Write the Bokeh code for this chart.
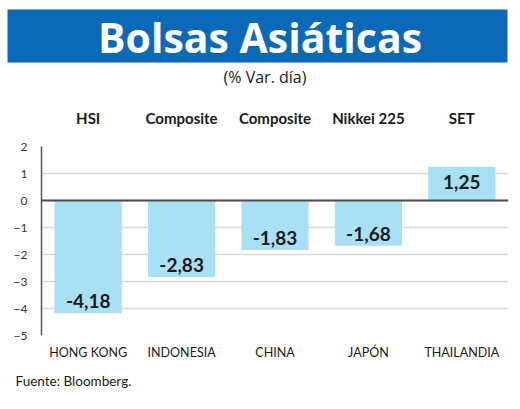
from bokeh.plotting import figure
from bokeh.layouts import column
from bokeh.models import (Range1d, LinearAxis, FixedTicker, BoxAnnotation,
                          Span, ColumnDataSource)
from bokeh.core.properties import value
from bokeh.embed import file_html
from bokeh.resources import INLINE

# ---- data ----
countries = ["HONG KONG", "INDONESIA", "CHINA", "JAPÓN", "THAILANDIA"]
indices = ["HSI", "Composite", "Composite", "Nikkei 225", "SET"]
changes = [-4.18, -2.83, -1.83, -1.68, 1.25]
y_ticks = [-5, -4, -3, -2, -1, 0, 1, 2]
title_text = "Bolsas Asiáticas"
subtitle_text = "(% Var. día)"
source_text = "Fuente: Bloomberg."

BANNER = "#0a6ab7"
BAR = "#a8e1f6"
FONT = "Lato"
HEAD_FONT = "Open Sans"
INK = "#1a1a1a"
W = 520

# ---- header (banner + subtitle) ----
hdr = figure(width=W, height=95, output_backend="svg", toolbar_location=None,
             x_range=Range1d(0, W), y_range=Range1d(0, 95),
             x_axis_type=None, y_axis_type=None, min_border=0,
             outline_line_color=None, background_fill_color="white",
             border_fill_color="white")
hdr.frame_align = False
hdr.grid.visible = False
hdr.add_layout(BoxAnnotation(left=7, right=507, bottom=33, top=86,
                             fill_color=BANNER, fill_alpha=1,
                             line_color=None, level="underlay"))
hdr.text(x=[259.5], y=[59], text=[title_text], text_align="center",
         text_baseline="middle", text_font=value(HEAD_FONT),
         text_font_style="bold", text_font_size="41px", text_color="white")
hdr.text(x=[264.5], y=[18.5], text=[subtitle_text], text_align="center",
         text_baseline="middle", text_font=value(HEAD_FONT),
         text_font_size="16px", text_color=INK)

# ---- main chart ----
n = len(countries)
pos = [i + 0.5 for i in range(n)]          # category slot centres
labels = [f"{v:.2f}".replace(".", ",") for v in changes]
offsets = [-12 if v < 0 else 15 for v in changes]
src = ColumnDataSource(dict(x=pos, top=changes, lab=labels, off=offsets))

p = figure(width=W, height=270, output_backend="svg", toolbar_location=None,
           x_range=Range1d(0, n), y_range=Range1d(-5, 2),
           min_border_left=41, min_border_right=12, min_border_top=51,
           min_border_bottom=30, outline_line_color=None,
           background_fill_color="white", border_fill_color="white")
p.frame_align = False

p.vbar(x="x", top="top", bottom=0, width=0.72, source=src,
       fill_color=BAR, line_color=None)
p.text(x="x", y="top", text="lab", y_offset="off", source=src,
       text_align="center", text_baseline="middle",
       text_font=value(FONT), text_font_style="bold",
       text_font_size="19px", text_color=INK)

p.add_layout(Span(location=0, dimension="width", line_color="#4d4d4d",
                  line_width=2))

p.xgrid.grid_line_color = None
p.ygrid.grid_line_color = "#d9d9d9"
p.ygrid.grid_line_width = 1.5
p.ygrid.ticker = FixedTicker(ticks=y_ticks)

ya = p.yaxis[0]
ya.ticker = FixedTicker(ticks=y_ticks)
ya.major_tick_line_color = None
ya.minor_tick_line_color = None
ya.axis_line_color = "#555555"
ya.axis_line_width = 1.5
ya.major_label_standoff = 8
ya.major_label_text_font = FONT
ya.major_label_text_font_size = "12px"
ya.major_label_text_color = "#333333"

xa = p.xaxis[0]
xa.ticker = FixedTicker(ticks=pos)
xa.major_label_overrides = {t: c for t, c in zip(pos, countries)}
xa.axis_line_color = None
xa.major_tick_line_color = None
xa.minor_tick_line_color = None
xa.major_label_standoff = 3
xa.major_label_text_font = FONT
xa.major_label_text_font_size = "12.5px"
xa.major_label_text_color = INK

# index names on a top axis aligned with the same slots
top_axis = LinearAxis(
    ticker=FixedTicker(ticks=pos),
    major_label_overrides={t: nm for t, nm in zip(pos, indices)},
    axis_line_color=None, major_tick_line_color=None,
    minor_tick_line_color=None,
    major_label_standoff=14, major_label_text_font=FONT,
    major_label_text_font_style="bold", major_label_text_font_size="15px",
    major_label_text_color=INK)
p.add_layout(top_axis, "above")

# ---- footer (source) ----
ftr = figure(width=W, height=44, output_backend="svg", toolbar_location=None,
             x_range=Range1d(0, W), y_range=Range1d(0, 44),
             x_axis_type=None, y_axis_type=None, min_border=0,
             outline_line_color=None, background_fill_color="white",
             border_fill_color="white")
ftr.frame_align = False
ftr.grid.visible = False
ftr.text(x=[15], y=[29], text=[source_text], text_align="left",
         text_baseline="middle", text_font=value(FONT),
         text_font_size="13.5px", text_color=INK)

layout = column(hdr, p, ftr, spacing=0)
open("out.html", "w").write(file_html(layout, INLINE))
